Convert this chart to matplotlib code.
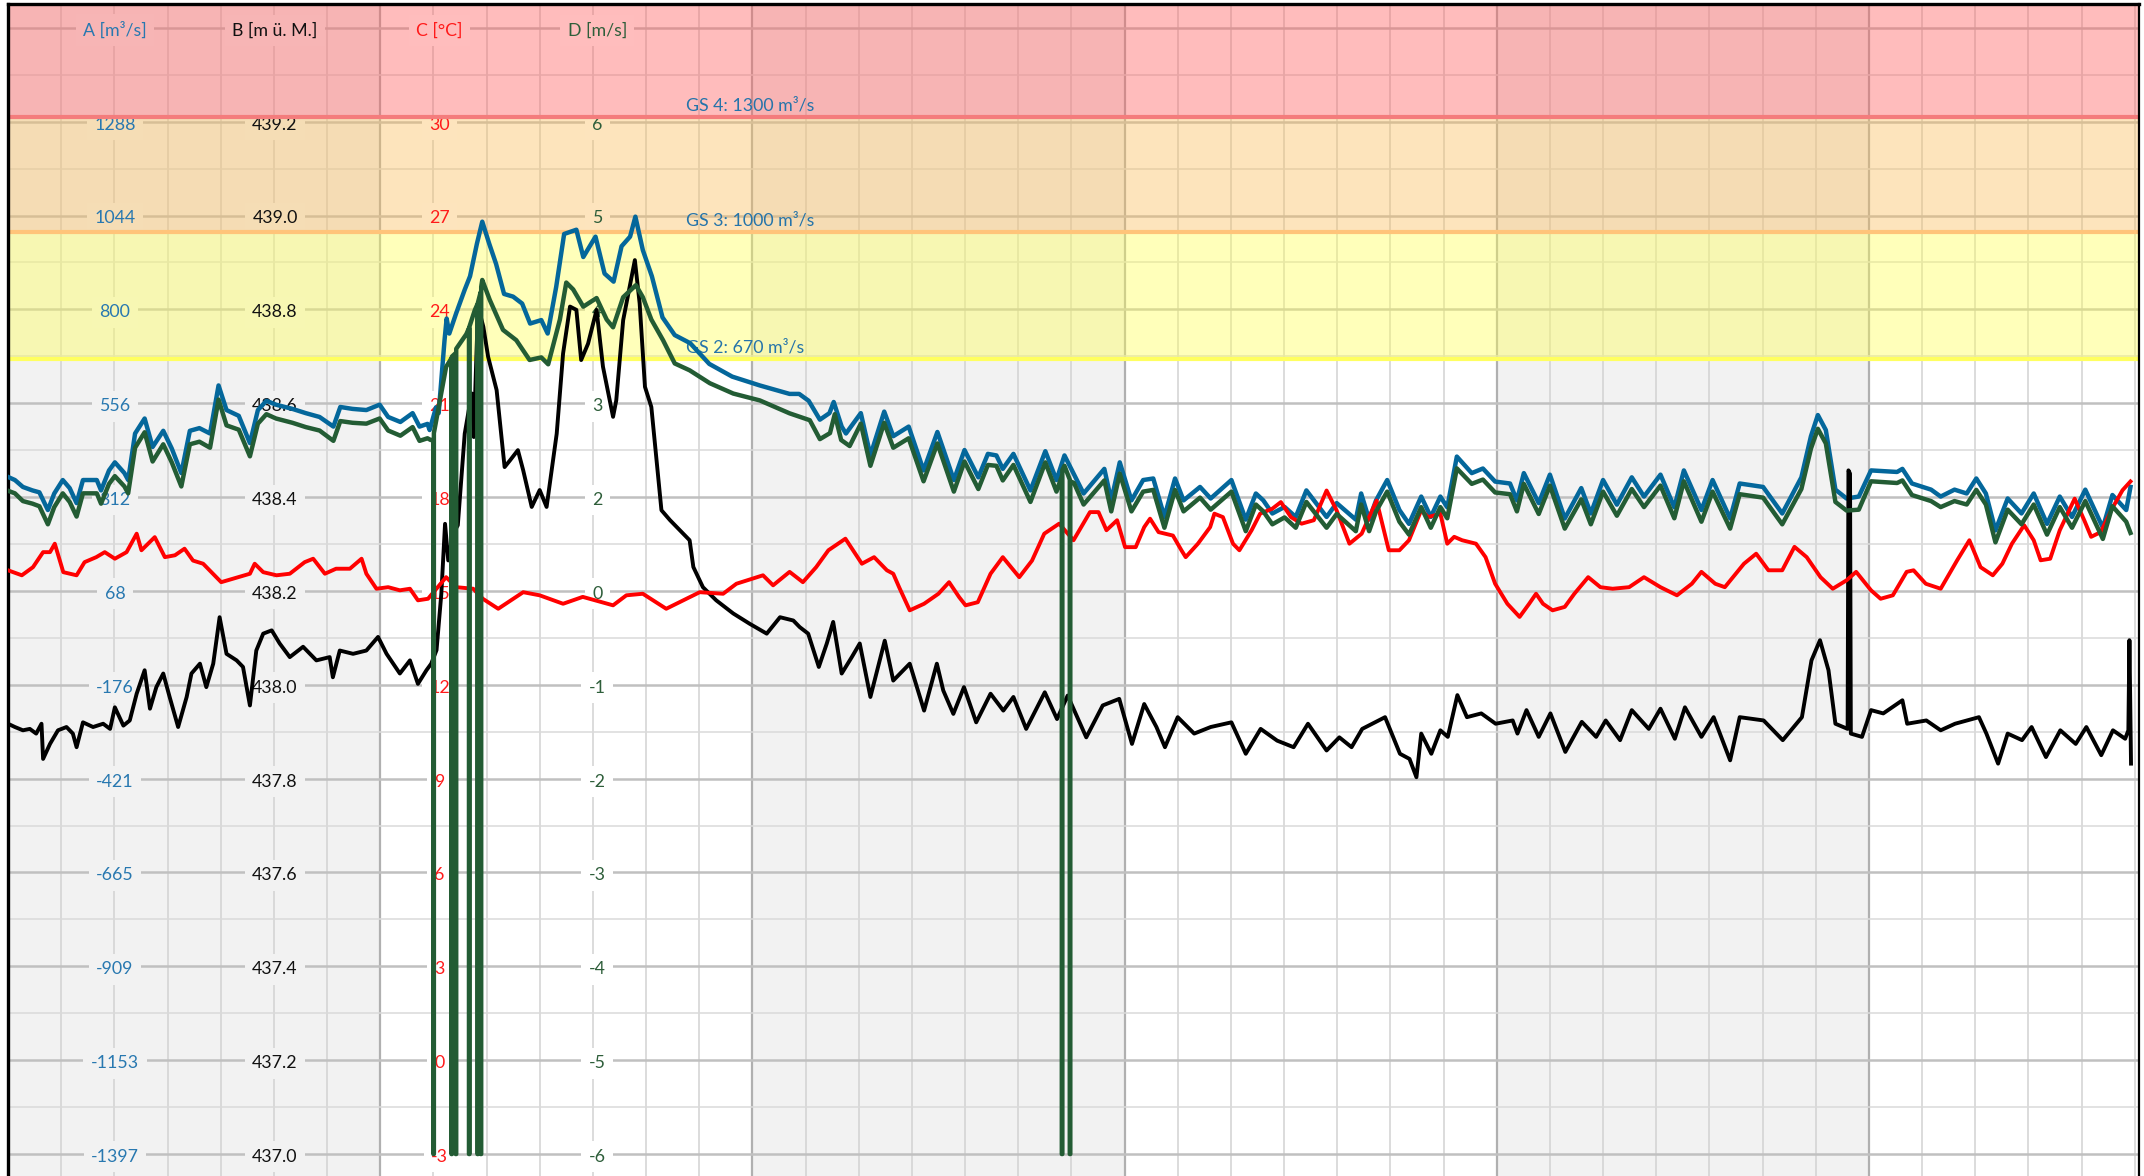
import matplotlib
matplotlib.use('Agg')
from matplotlib import pyplot as plt
from matplotlib import transforms
from matplotlib.patches import Rectangle


plt.rcParams['font.family'] = ['Lato', 'DejaVu Sans']

# x axis: days since start of the window
DAYS = 40.08

# tick rows of the four y axes, top to bottom (row 0 .. row 11)
a_labels = ['1288', '1044', '800', '556', '312', '68', '-176', '-421', '-665', '-909', '-1153', '-1397']
b_labels = ['439.2', '439.0', '438.8', '438.6', '438.4', '438.2', '438.0', '437.8', '437.6', '437.4', '437.2', '437.0']
c_labels = ['30', '27', '24', '21', '18', '15', '12', '9', '6', '3', '0', '-3']
d_labels = ['6', '5', '4', '3', '2', '0', '-1', '-2', '-3', '-4', '-5', '-6']
axis_titles = ['A [m³/s]', 'B [m ü. M.]', 'C [°C]', 'D [m/s]']

# value on row 0 and row 11 of every axis
a_span = (1288, -1397)
b_span = (439.2, 437.0)
c_span = (30, -3)
d_span = (6, -6)

# warning levels (axis A)
gs_levels = [1300, 1000, 670]
gs_names = ['GS 4: 1300 m³/s', 'GS 3: 1000 m³/s', 'GS 2: 670 m³/s']

# A - discharge
t_a = [
    0.00, 0.13, 0.28, 0.46, 0.59, 0.75, 0.87, 1.03, 1.16, 1.29,
    1.41, 1.67, 1.75, 1.90, 2.01, 2.19, 2.26, 2.39, 2.57, 2.72,
    2.92, 3.08, 3.26, 3.42, 3.60, 3.80, 3.96, 4.11, 4.34, 4.55,
    4.70, 4.86, 5.04, 5.35, 5.60, 5.86, 6.12, 6.25, 6.48, 6.74,
    6.99, 7.15, 7.38, 7.61, 7.74, 7.89, 7.93, 8.05, 8.10, 8.21,
    8.25, 8.30, 8.43, 8.59, 8.69, 8.82, 8.92, 9.05, 9.18, 9.33,
    9.50, 9.67, 9.82, 10.03, 10.15, 10.31, 10.46, 10.69, 10.82, 11.05,
    11.22, 11.39, 11.54, 11.70, 11.80, 11.94, 12.11, 12.31, 12.54, 12.83,
    13.19, 13.62, 14.14, 14.70, 14.88, 15.06, 15.27, 15.45, 15.53, 15.68,
    15.76, 16.04, 16.22, 16.48, 16.65, 16.94, 17.22, 17.48, 17.79, 17.99,
    18.25, 18.43, 18.59, 18.71, 18.91, 19.23, 19.51, 19.72, 19.87, 20.23,
    20.62, 20.75, 20.91, 21.13, 21.35, 21.54, 21.75, 21.95, 22.11, 22.42,
    22.62, 23.01, 23.28, 23.47, 23.61, 23.78, 24.01, 24.22, 24.42, 24.80,
    24.99, 25.35, 25.45, 25.60, 25.73, 25.94, 26.17, 26.35, 26.58, 26.76,
    26.94, 27.07, 27.25, 27.53, 27.74, 27.97, 28.25, 28.38, 28.51, 28.79,
    29.00, 29.28, 29.59, 29.77, 30.00, 30.26, 30.54, 30.77, 31.08, 31.34,
    31.52, 31.85, 32.06, 32.39, 32.57, 33.01, 33.37, 33.73, 33.91, 34.04,
    34.19, 34.37, 34.58, 34.81, 35.04, 35.53, 35.63, 35.81, 36.17, 36.35,
    36.61, 36.84, 37.02, 37.20, 37.38, 37.61, 37.87, 38.10, 38.35, 38.59,
    38.82, 39.07, 39.40, 39.58, 39.84, 39.92,
]
flow_a = [
    364, 356, 338, 329, 324, 278, 321, 356, 335, 296,
    356, 356, 329, 381, 402, 374, 356, 477, 516, 442,
    484, 438, 374, 484, 491, 477, 602, 538, 523, 452,
    538, 562, 552, 541, 530, 520, 495, 546, 541, 538,
    552, 520, 507, 530, 495, 502, 486, 545, 530, 719,
    776, 737, 790, 851, 886, 971, 1028, 971, 918, 840,
    833, 815, 763, 772, 737, 858, 996, 1007, 936, 989,
    893, 872, 964, 989, 1041, 954, 886, 779, 733, 712,
    658, 625, 602, 580, 580, 562, 513, 530, 559, 495,
    477, 530, 420, 534, 470, 495, 381, 481, 356, 434,
    363, 424, 420, 385, 424, 329, 431, 356, 420, 321,
    385, 303, 402, 303, 356, 360, 260, 360, 303, 338,
    308, 356, 253, 321, 303, 269, 286, 260, 329, 260,
    296, 253, 321, 253, 303, 356, 278, 242, 313, 260,
    313, 285, 417, 374, 386, 352, 347, 303, 374, 296,
    370, 256, 335, 269, 356, 292, 363, 313, 370, 285,
    381, 278, 356, 256, 347, 338, 269, 363, 470, 525,
    486, 331, 308, 313, 381, 377, 385, 347, 331, 313,
    331, 321, 360, 321, 225, 308, 269, 321, 242, 313,
    260, 331, 232, 317, 278, 338,
]

# B - water level
t_b = [
    0.00, 0.13, 0.28, 0.41, 0.53, 0.63, 0.66, 0.79, 0.94, 1.10,
    1.22, 1.29, 1.41, 1.60, 1.79, 1.92, 2.01, 2.17, 2.29, 2.42,
    2.57, 2.67, 2.79, 2.92, 3.04, 3.20, 3.36, 3.45, 3.61, 3.73,
    3.86, 3.98, 4.11, 4.30, 4.42, 4.55, 4.67, 4.80, 4.96, 5.11,
    5.30, 5.55, 5.80, 6.05, 6.11, 6.24, 6.49, 6.74, 6.96, 7.12,
    7.37, 7.56, 7.71, 7.87, 7.96, 8.06, 8.15, 8.22, 8.28, 8.37,
    8.46, 8.59, 8.72, 8.76, 8.84, 8.94, 9.03, 9.19, 9.34, 9.44,
    9.59, 9.69, 9.85, 10.00, 10.13, 10.32, 10.44, 10.57, 10.69, 10.78,
    10.91, 11.07, 11.19, 11.38, 11.44, 11.57, 11.79, 11.88, 11.98, 12.10,
    12.29, 12.45, 12.70, 12.82, 12.89, 13.07, 13.32, 13.64, 13.95, 14.27,
    14.52, 14.77, 14.89, 15.05, 15.25, 15.40, 15.52, 15.68, 15.87, 16.02,
    16.22, 16.38, 16.49, 16.65, 16.96, 17.23, 17.47, 17.59, 17.78, 17.98,
    18.21, 18.48, 18.72, 18.91, 19.15, 19.50, 19.73, 19.93, 20.28, 20.59,
    20.90, 21.14, 21.37, 21.60, 21.76, 22.00, 22.31, 22.62, 23.01, 23.28,
    23.56, 23.87, 24.18, 24.45, 24.80, 25.04, 25.27, 25.47, 25.90, 26.18,
    26.36, 26.49, 26.58, 26.77, 26.94, 27.08, 27.26, 27.44, 27.71, 27.98,
    28.30, 28.39, 28.56, 28.79, 29.01, 29.29, 29.60, 29.87, 30.05, 30.32,
    30.54, 30.86, 31.08, 31.35, 31.54, 31.85, 32.08, 32.39, 32.57, 33.02,
    33.38, 33.74, 33.92, 34.08, 34.24, 34.37, 34.60, 34.615, 34.645, 34.66, 34.87,
    35.04, 35.27, 35.63, 35.72, 36.08, 36.35, 36.62, 37.07, 37.21, 37.43,
    37.61, 37.88, 38.06, 38.33, 38.60, 38.89, 39.09, 39.37, 39.59, 39.82,
    39.88, 39.90, 39.93,
]
level_b = [
    437.917, 437.910, 437.903, 437.906, 437.896, 437.917, 437.842, 437.874, 437.903, 437.910,
    437.896, 437.867, 437.920, 437.910, 437.917, 437.906, 437.952, 437.913, 437.924, 437.981,
    438.031, 437.949, 437.995, 438.024, 437.974, 437.910, 437.974, 438.024, 438.045, 437.995,
    438.045, 438.144, 438.066, 438.052, 438.038, 437.956, 438.073, 438.109, 438.116, 438.088,
    438.059, 438.081, 438.052, 438.059, 438.016, 438.073, 438.066, 438.073, 438.102, 438.066,
    438.024, 438.052, 438.002, 438.031, 438.045, 438.074, 438.194, 438.343, 438.265, 438.322,
    438.340, 438.535, 438.621, 438.528, 438.806, 438.763, 438.699, 438.628, 438.464, 438.478,
    438.500, 438.457, 438.379, 438.415, 438.379, 438.535, 438.706, 438.806, 438.799, 438.692,
    438.727, 438.799, 438.678, 438.571, 438.606, 438.777, 438.905, 438.813, 438.635, 438.592,
    438.372, 438.351, 438.322, 438.308, 438.251, 438.208, 438.180, 438.152, 438.130, 438.109,
    438.144, 438.137, 438.123, 438.109, 438.038, 438.088, 438.134, 438.024, 438.059, 438.088,
    437.974, 438.045, 438.094, 438.009, 438.045, 437.945, 438.045, 437.988, 437.938, 437.995,
    437.920, 437.981, 437.945, 437.974, 437.906, 437.984, 437.927, 437.977, 437.888, 437.956,
    437.970, 437.874, 437.959, 437.910, 437.867, 437.931, 437.896, 437.910, 437.920, 437.853,
    437.906, 437.881, 437.867, 437.917, 437.860, 437.888, 437.867, 437.906, 437.931, 437.853,
    437.842, 437.803, 437.896, 437.853, 437.903, 437.889, 437.978, 437.931, 437.939, 437.917,
    437.924, 437.896, 437.946, 437.889, 437.939, 437.857, 437.921, 437.889, 437.924, 437.882,
    437.946, 437.906, 437.949, 437.885, 437.952, 437.889, 437.931, 437.839, 437.931, 437.924,
    437.882, 437.931, 438.052, 438.095, 438.031, 437.917, 437.906, 438.457, 438.450, 437.896, 437.889,
    437.946, 437.939, 437.967, 437.917, 437.924, 437.903, 437.917, 437.931, 437.896, 437.832,
    437.896, 437.882, 437.910, 437.846, 437.903, 437.874, 437.910, 437.850, 437.903, 437.885,
    437.903, 438.095, 437.832,
]

# C - water temperature
t_c = [
    0.00, 0.26, 0.47, 0.66, 0.79, 0.88, 1.04, 1.29, 1.44, 1.66,
    1.82, 2.01, 2.23, 2.42, 2.51, 2.76, 2.95, 3.14, 3.32, 3.48,
    3.67, 4.01, 4.23, 4.55, 4.64, 4.80, 5.05, 5.30, 5.58, 5.74,
    5.96, 6.17, 6.43, 6.65, 6.74, 6.93, 7.15, 7.37, 7.56, 7.71,
    7.90, 8.24, 8.43, 8.75, 8.93, 9.22, 9.69, 10.00, 10.44, 10.81,
    11.38, 11.63, 11.94, 12.38, 13.01, 13.45, 13.70, 14.20, 14.39, 14.70,
    14.95, 15.20, 15.43, 15.75, 16.06, 16.29, 16.53, 16.65, 16.76, 16.96,
    17.23, 17.50, 17.70, 17.89, 18.01, 18.24, 18.48, 18.71, 19.02, 19.26,
    19.49, 19.77, 20.04, 20.35, 20.51, 20.66, 20.86, 21.01, 21.21, 21.37,
    21.48, 21.64, 21.91, 22.07, 22.15, 22.38, 22.61, 22.69, 22.85, 23.04,
    23.16, 23.39, 23.55, 23.78, 23.94, 24.13, 24.33, 24.56, 24.80, 24.99,
    25.23, 25.46, 25.74, 25.97, 26.17, 26.35, 26.58, 26.71, 26.94, 27.07,
    27.20, 27.35, 27.61, 27.79, 27.97, 28.20, 28.43, 28.61, 28.74, 28.87,
    29.05, 29.28, 29.46, 29.72, 29.95, 30.18, 30.49, 30.77, 31.08, 31.39,
    31.67, 31.85, 32.11, 32.29, 32.65, 32.88, 33.11, 33.37, 33.60, 33.83,
    34.09, 34.32, 34.58, 34.76, 35.04, 35.22, 35.45, 35.71, 35.84, 36.07,
    36.35, 36.66, 36.89, 37.10, 37.33, 37.51, 37.69, 37.92, 38.10, 38.23,
    38.41, 38.59, 38.87, 39.05, 39.18, 39.36, 39.59, 39.77, 39.92,
]
temp_c = [
    15.66, 15.50, 15.76, 16.24, 16.24, 16.51, 15.60, 15.50, 15.92, 16.08,
    16.24, 16.03, 16.24, 16.83, 16.30, 16.72, 16.08, 16.14, 16.35, 15.97,
    15.87, 15.28, 15.39, 15.55, 15.87, 15.60, 15.50, 15.55, 15.92, 16.03,
    15.55, 15.71, 15.71, 16.03, 15.55, 15.07, 15.12, 15.02, 15.07, 14.70,
    14.75, 15.44, 15.12, 15.07, 14.75, 14.43, 14.96, 14.86, 14.59, 14.81,
    14.54, 14.86, 14.91, 14.43, 14.96, 14.91, 15.23, 15.50, 15.18, 15.61,
    15.28, 15.76, 16.30, 16.67, 15.87, 16.08, 15.66, 15.55, 15.12, 14.38,
    14.59, 14.91, 15.28, 14.80, 14.54, 14.64, 15.55, 16.08, 15.44, 15.97,
    16.83, 17.15, 16.62, 17.52, 17.52, 16.94, 17.26, 16.40, 16.40, 17.04,
    17.31, 16.88, 16.77, 16.30, 16.08, 16.51, 17.04, 17.47, 17.36, 16.51,
    16.30, 16.94, 17.47, 17.63, 17.84, 17.36, 17.15, 17.26, 18.21, 17.57,
    16.51, 16.83, 17.89, 16.30, 16.30, 16.62, 17.58, 17.36, 17.47, 16.51,
    16.73, 16.62, 16.51, 16.08, 15.23, 14.59, 14.17, 14.59, 14.91, 14.59,
    14.38, 14.49, 14.91, 15.44, 15.12, 15.07, 15.12, 15.44, 15.12, 14.86,
    15.23, 15.61, 15.23, 15.12, 15.87, 16.19, 15.66, 15.66, 16.41, 16.08,
    15.44, 15.07, 15.34, 15.61, 15.02, 14.75, 14.86, 15.61, 15.66, 15.23,
    15.07, 15.98, 16.62, 15.76, 15.50, 15.87, 16.51, 17.10, 16.62, 15.98,
    16.03, 16.94, 17.95, 17.26, 16.73, 16.88, 17.68, 18.22, 18.50,
]

# D - flow velocity (-6 = sensor dropout)
t_d = [
    0.00, 0.13, 0.28, 0.46, 0.59, 0.75, 0.87, 1.03, 1.16, 1.29,
    1.41, 1.67, 1.75, 1.90, 2.01, 2.19, 2.26, 2.39, 2.57, 2.72,
    2.92, 3.08, 3.26, 3.42, 3.60, 3.80, 3.96, 4.11, 4.34, 4.55,
    4.70, 4.86, 5.04, 5.35, 5.60, 5.86, 6.12, 6.25, 6.48, 6.74,
    6.99, 7.15, 7.38, 7.61, 7.74, 7.89, 7.95,
    8.00, 8.00, 8.01, 8.01, 8.24,
    8.34, 8.34, 8.35, 8.35,
    8.42, 8.42, 8.43, 8.43, 8.62,
    8.67, 8.67, 8.68, 8.68, 8.78,
    8.83, 8.83, 8.84, 8.84,
    8.89, 8.89, 8.90, 8.90, 8.92,
    9.06, 9.31, 9.56, 9.81, 10.03, 10.16, 10.38, 10.50,
    10.63, 10.82, 11.07, 11.26, 11.38, 11.57, 11.81, 11.94, 12.10, 12.32,
    12.54, 12.82, 13.20, 13.64, 14.14, 14.70, 15.08, 15.27, 15.46, 15.55,
    15.67, 15.83, 16.04, 16.22, 16.48, 16.65, 16.94, 17.22, 17.48, 17.79,
    17.99, 18.25, 18.43, 18.59, 18.71, 18.91, 19.23, 19.51, 19.72,
    19.82, 19.82, 19.83, 19.83, 19.87,
    19.97, 19.97, 19.98, 19.98, 20.05,
    20.23, 20.62, 20.75, 20.91, 21.13, 21.35, 21.54,
    21.75, 21.95, 22.11, 22.42, 22.62, 23.01, 23.28, 23.47, 23.61, 23.78,
    24.01, 24.22, 24.42, 24.80, 24.99, 25.35, 25.45, 25.60, 25.73, 25.94,
    26.17, 26.35, 26.58, 26.76, 26.94, 27.07, 27.25, 27.53, 27.74, 27.97,
    28.25, 28.38, 28.51, 28.79, 29.00, 29.28, 29.59, 29.77, 30.00, 30.26,
    30.54, 30.77, 31.08, 31.34, 31.52, 31.85, 32.06, 32.39, 32.57, 33.01,
    33.37, 33.73, 33.91, 34.04, 34.19, 34.37, 34.58, 34.81, 35.04, 35.53,
    35.63, 35.81, 36.17, 36.35, 36.61, 36.84, 37.02, 37.20, 37.38, 37.61,
    37.87, 38.10, 38.35, 38.59, 38.82, 39.07, 39.40, 39.58, 39.84, 39.92,
]
speed_d = [
    1.71, 1.68, 1.59, 1.56, 1.53, 1.32, 1.52, 1.68, 1.58, 1.41,
    1.68, 1.68, 1.56, 1.79, 1.88, 1.76, 1.68, 2.21, 2.39, 2.05,
    2.25, 2.04, 1.76, 2.25, 2.28, 2.21, 2.77, 2.47, 2.42, 2.11,
    2.49, 2.60, 2.55, 2.50, 2.45, 2.41, 2.29, 2.52, 2.50, 2.49,
    2.55, 2.41, 2.35, 2.45, 2.29, 2.32, 2.30,
    2.30, -6, -6, 2.38, 3.15,
    3.25, -6, -6, 3.27,
    3.31, -6, -6, 3.36, 3.53,
    3.60, -6, -6, 3.62, 3.81,
    3.88, -6, -6, 3.90,
    4.02, -6, -6, 4.08, 4.16,
    3.93, 3.58, 3.46, 3.23, 3.26, 3.18, 3.70, 4.13,
    4.05, 3.85, 3.95, 3.70, 3.61, 3.96, 4.10, 3.96, 3.70, 3.46,
    3.19, 3.11, 2.96, 2.84, 2.76, 2.61, 2.53, 2.31, 2.38, 2.60,
    2.30, 2.23, 2.49, 2.00, 2.50, 2.21, 2.32, 1.82, 2.26, 1.70,
    2.05, 1.73, 2.01, 2.00, 1.83, 2.01, 1.58, 2.04, 1.70,
    1.88, -6, -6, 1.95, 2.00,
    1.84, -6, -6, 1.82, 1.80,
    1.55, 1.83, 1.47, 1.91, 1.47, 1.70, 1.72,
    1.28, 1.72, 1.47, 1.63, 1.49, 1.70, 1.24, 1.55, 1.47, 1.32,
    1.40, 1.28, 1.58, 1.28, 1.44, 1.24, 1.55, 1.24, 1.47, 1.70,
    1.35, 1.20, 1.52, 1.28, 1.52, 1.39, 1.97, 1.79, 1.84, 1.69,
    1.67, 1.47, 1.79, 1.44, 1.77, 1.27, 1.61, 1.32, 1.70, 1.42,
    1.73, 1.52, 1.77, 1.39, 1.82, 1.35, 1.70, 1.27, 1.67, 1.63,
    1.32, 1.73, 2.20, 2.43, 2.26, 1.58, 1.48, 1.49, 1.82, 1.80,
    1.83, 1.66, 1.59, 1.52, 1.59, 1.55, 1.72, 1.55, 1.11, 1.49,
    1.32, 1.55, 1.20, 1.52, 1.28, 1.59, 1.15, 1.53, 1.35, 1.22,
]


# visible part of the plot, measured in tick rows
ROW_TOP = -1.254
ROW_BOTTOM = 11.234

FONT_SIZE = 12.8
BASELINE_DROP = -5.7   # points from grid line down to label baseline
WHITE = (1.0, 1.0, 1.0)
GRAY = (0.949, 0.949, 0.949)
BAND_ALPHA = 0.4
band_colors = [(1.0, 0.35, 0.35), (0.98, 0.74, 0.35), (1.0, 1.0, 0.33)]
level_colors = ['#f47c7c', '#ffc47a', '#ffff60']

label_x = [0.0502, 0.1253, 0.2025, 0.2765]
label_colors = ['#2878b0', '#111111', '#ff1a1a', '#2e5e3a']


def row_value(span, row):
    'Value of an axis at a given tick row'
    return span[0] - row * (span[0] - span[1]) / 11


fig = plt.figure(figsize=(21.44, 11.76), dpi=100)
ax = fig.add_axes([8 / 2144, 0, 2131 / 2144, 1172 / 1176])
ax.set_xlim(0, DAYS)
ax.set_ylim(row_value(a_span, ROW_BOTTOM), row_value(a_span, ROW_TOP))
ax.set_xticks([])
ax.set_yticks([])
ax.set_facecolor('white')

# alternating week shading
for week in range(0, 6, 2):
    ax.axvspan(week * 7, week * 7 + 7, color=GRAY, lw=0, zorder=0)

# grid
for day in range(1, 41):
    if day % 7 == 0:
        ax.axvline(day, color='#b0b0b0', lw=1.6, zorder=1)
    else:
        ax.axvline(day, color='#d2d2d2', lw=1.1, zorder=1)

for row in range(-1, 12):
    ax.axhline(row_value(a_span, row), color='#c0c0c0', lw=1.8, zorder=1)
    ax.axhline(row_value(a_span, row + 0.5), color='#dadada', lw=1.1, zorder=1)

# warning bands, the last zone is the plain area below GS 2
top = row_value(a_span, ROW_TOP)
bottom = row_value(a_span, ROW_BOTTOM)
uppers = [top] + gs_levels[:-1]
for level, upper, color, line_color in zip(gs_levels, uppers, band_colors, level_colors):
    ax.axhspan(level, upper, color=color, alpha=BAND_ALPHA, lw=0, zorder=1.5)
    ax.axhline(level, color=line_color, lw=3, zorder=2.2)

zones = list(zip(gs_levels, uppers, band_colors)) + [(bottom, gs_levels[-1], None)]

trans = transforms.blended_transform_factory(ax.transAxes, ax.transData)

for name, level in zip(gs_names, gs_levels):
    ax.annotate(name, xy=(0.318, level), xycoords=trans, xytext=(0, 5),
                textcoords='offset points', va='baseline', ha='left',
                fontsize=FONT_SIZE, color='#2574aa', zorder=2)


def label_zone(x_frac, a_value):
    'Background colour and vertical extent of the zone a label sits in'
    day = x_frac * DAYS
    base = GRAY if int(day // 7) % 2 == 0 else WHITE
    for lower, upper, band in zones:
        if lower <= a_value <= upper:
            if band is None:
                return base, lower, upper
            mixed = tuple((1 - BAND_ALPHA) * b + BAND_ALPHA * c for b, c in zip(base, band))
            return mixed, lower, upper
    return base, bottom, top


# axis labels sitting inside the plot
all_labels = [a_labels, b_labels, c_labels, d_labels]
for k, labels in enumerate(all_labels):
    rows = [(-1, axis_titles[k])] + list(enumerate(labels))
    for row, text in rows:
        a_value = row_value(a_span, row)
        face, lower, upper = label_zone(label_x[k], a_value)
        txt = ax.annotate(text, xy=(label_x[k], a_value), xycoords=trans,
                          xytext=(0, BASELINE_DROP), textcoords='offset points',
                          ha='center', va='baseline', fontsize=FONT_SIZE,
                          color=label_colors[k], zorder=2,
                          bbox=dict(boxstyle='square,pad=0.42', fc=face, ec='none'))
        # keep the label background inside its own colour zone
        clip = Rectangle((0, lower), 1, upper - lower, transform=trans)
        txt.get_bbox_patch().set_clip_path(clip)

for side in ['left', 'top']:
    ax.spines[side].set_color('black')
    ax.spines[side].set_linewidth(2.4)
ax.spines['right'].set_color('black')
ax.spines['right'].set_linewidth(1.6)
ax.spines['bottom'].set_visible(False)

# series
ax.plot(t_a, flow_a, color='#04679b', lw=3.2, zorder=3, solid_joinstyle='round')

ax_b = ax.twinx()
ax_b.set_ylim(row_value(b_span, ROW_BOTTOM), row_value(b_span, ROW_TOP))
ax_b.axis('off')
ax_b.plot(t_b, level_b, color='black', lw=2.8, solid_joinstyle='round')

ax_c = ax.twinx()
ax_c.set_ylim(row_value(c_span, ROW_BOTTOM), row_value(c_span, ROW_TOP))
ax_c.axis('off')
ax_c.plot(t_c, temp_c, color='#ff0000', lw=2.8, solid_joinstyle='round')

ax_d = ax.twinx()
ax_d.set_ylim(row_value(d_span, ROW_BOTTOM), row_value(d_span, ROW_TOP))
ax_d.axis('off')
ax_d.plot(t_d, speed_d, color='#235c34', lw=3.2, solid_joinstyle='round')

for twin in [ax_b, ax_c, ax_d]:
    twin.set_xlim(0, DAYS)

fig.savefig('out.png', dpi=100, facecolor='white')
